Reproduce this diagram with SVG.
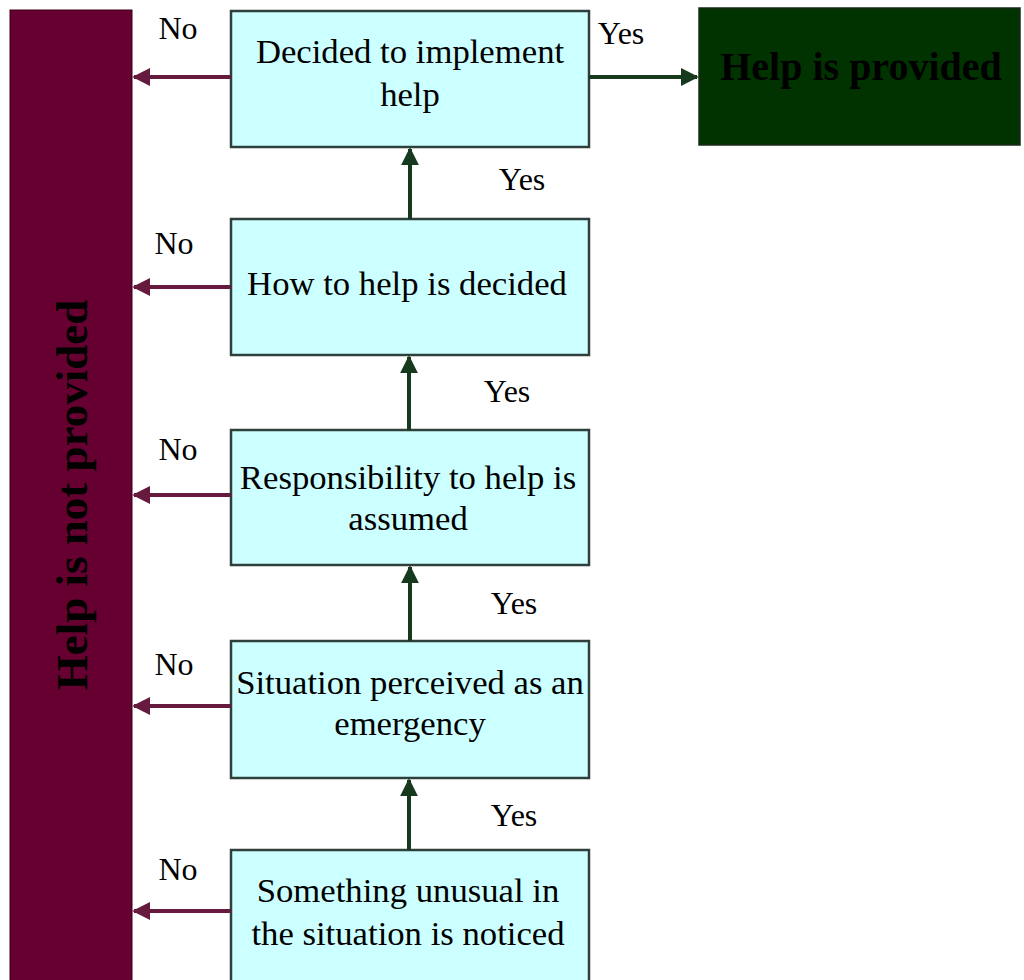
<svg xmlns="http://www.w3.org/2000/svg" width="1024" height="980" viewBox="0 0 1024 980">
<style>
.box{fill:#ccffff;stroke:#2f3f3a;stroke-width:2.5}
.t{font-family:"Liberation Serif",serif;font-size:34.7px;fill:#000;text-anchor:middle}
.lbl{font-family:"Liberation Serif",serif;font-size:32px;fill:#000;text-anchor:middle}
.no{stroke:#661a3d;stroke-width:4;fill:none}
.yes{stroke:#173a1f;stroke-width:4;fill:none}
</style>
<defs>
<marker id="mNo" viewBox="0 0 10 10" refX="9" refY="5" markerWidth="4.5" markerHeight="5" orient="auto" markerUnits="strokeWidth"><path d="M0,0 L10,5 L0,10 z" fill="#661a3d"/></marker>
<marker id="mYes" viewBox="0 0 10 10" refX="9" refY="5" markerWidth="4.5" markerHeight="4.5" orient="auto" markerUnits="strokeWidth"><path d="M0,0 L10,5 L0,10 z" fill="#173a1f"/></marker>
</defs>
<rect width="1024" height="980" fill="#fff"/>
<g id="not-provided">
<rect x="10" y="10" width="122" height="980" fill="#660030" stroke="#3a0018" stroke-width="1"/>
<text transform="translate(87,495) rotate(-90)" font-family="'Liberation Serif',serif" font-size="45" font-weight="bold" text-anchor="middle" fill="#000">Help is not provided</text>
</g>
<g id="provided">
<rect x="699" y="8" width="321" height="137" fill="#003300" stroke="#1a2a1a" stroke-width="1.5"/>
<text x="861" y="80" font-family="'Liberation Serif',serif" font-size="40" font-weight="bold" text-anchor="middle" fill="#000">Help is provided</text>
</g>
<g id="n1"><rect class="box" x="231" y="11" width="358" height="136"/>
<text class="t" x="410" y="63">Decided to implement</text><text class="t" x="410" y="106">help</text></g>
<g id="n2"><rect class="box" x="231" y="219" width="358" height="136"/>
<text class="t" x="407" y="295">How to help is decided</text></g>
<g id="n3"><rect class="box" x="231" y="430" width="358" height="135"/>
<text class="t" x="408" y="489">Responsibility to help is</text><text class="t" x="408" y="530">assumed</text></g>
<g id="n4"><rect class="box" x="231" y="641" width="358" height="137"/>
<text class="t" x="410" y="694">Situation perceived as an</text><text class="t" x="410" y="735">emergency</text></g>
<g id="n5"><rect class="box" x="231" y="850" width="358" height="140"/>
<text class="t" x="408" y="902">Something unusual in</text><text class="t" x="408" y="945">the situation is noticed</text></g>
<g id="connectors">
<line class="no" x1="231" y1="77" x2="134" y2="77" marker-end="url(#mNo)"/>
<line class="no" x1="231" y1="287" x2="134" y2="287" marker-end="url(#mNo)"/>
<line class="no" x1="231" y1="495" x2="134" y2="495" marker-end="url(#mNo)"/>
<line class="no" x1="231" y1="706" x2="134" y2="706" marker-end="url(#mNo)"/>
<line class="no" x1="231" y1="911" x2="134" y2="911" marker-end="url(#mNo)"/>
<line class="yes" x1="589" y1="77" x2="697" y2="77" marker-end="url(#mYes)"/>
<line class="yes" x1="410" y1="219" x2="410" y2="149" marker-end="url(#mYes)"/>
<line class="yes" x1="409" y1="430" x2="409" y2="357" marker-end="url(#mYes)"/>
<line class="yes" x1="410" y1="641" x2="410" y2="567" marker-end="url(#mYes)"/>
<line class="yes" x1="409" y1="850" x2="409" y2="780" marker-end="url(#mYes)"/>
<text class="lbl" x="178" y="39">No</text>
<text class="lbl" x="174" y="254">No</text>
<text class="lbl" x="178" y="460">No</text>
<text class="lbl" x="174" y="675">No</text>
<text class="lbl" x="178" y="880">No</text>
<text class="lbl" x="621" y="44">Yes</text>
<text class="lbl" x="522" y="190">Yes</text>
<text class="lbl" x="507" y="402">Yes</text>
<text class="lbl" x="514" y="614">Yes</text>
<text class="lbl" x="514" y="826">Yes</text>
</g>
</svg>
